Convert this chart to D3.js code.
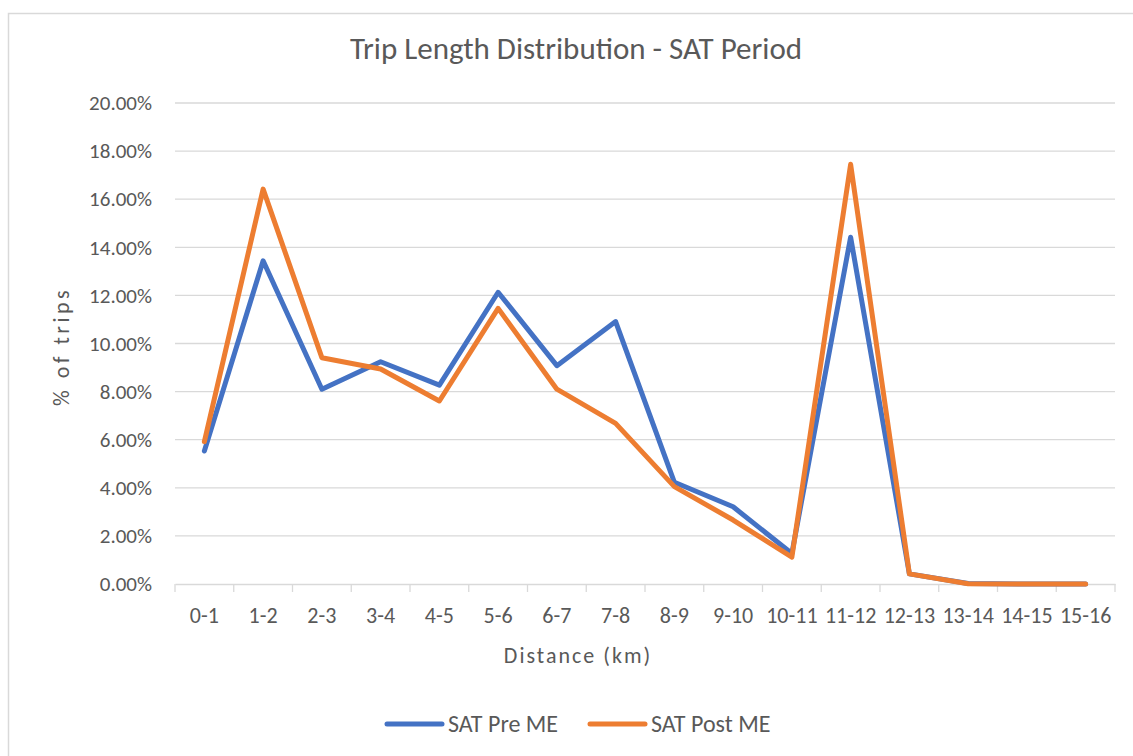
<!DOCTYPE html>
<html>
<head>
<meta charset="utf-8">
<script src="https://cdn.jsdelivr.net/npm/d3@7"></script>
<style>
  body { margin: 0; background: #fff; }
  text { font-family: Carlito, Lato, "Liberation Sans", sans-serif; fill: #595959; }
</style>
</head>
<body>
<div id="chart"></div>
<script>

    var categories = ["0-1", "1-2", "2-3", "3-4", "4-5", "5-6", "6-7", "7-8", "8-9", "9-10",
        "10-11", "11-12", "12-13", "13-14", "14-15", "15-16"];

    var preME = [5.53, 13.44, 8.10, 9.24, 8.27, 12.13, 9.08, 10.91, 4.23, 3.21,
        1.27, 14.42, 0.42, 0.02, 0.0, 0.0];

    var postME = [5.92, 16.42, 9.41, 8.94, 7.61, 11.46, 8.10, 6.68, 4.05, 2.66,
        1.12, 17.45, 0.42, 0.01, 0.0, 0.0];

    var yTicks = [0, 2, 4, 6, 8, 10, 12, 14, 16, 18, 20];

    var seriesNames = ["SAT Pre ME", "SAT Post ME"];
    var seriesColors = ["#4472C4", "#ED7D31"];

    var svgWidth = 1133;
    var svgHeight = 756;

    var margin = {
        top: 103,
        bottom: 172,
        left: 175,
        right: 18
    };

    var plot_width = svgWidth - margin.left - margin.right;
    var plot_height = svgHeight - margin.top - margin.bottom;

    var svg = d3.select("#chart")
        .append("svg")
        .attr("width", svgWidth)
        .attr("height", svgHeight);

    // chart area border
    svg.append("rect")
        .attr("x", 8.5)
        .attr("y", 13.5)
        .attr("width", 1140)
        .attr("height", 760)
        .attr("fill", "none")
        .attr("stroke", "#d9d9d9")
        .attr("stroke-width", 1.5);

    var chartGroup = svg.append("g")
        .attr("transform", `translate(${margin.left}, ${margin.top})`);

    var xScale = d3.scaleBand()
        .domain(categories)
        .range([0, plot_width])
        .padding(0);

    var yScale = d3.scaleLinear()
        .domain([0, 20])
        .range([plot_height, 0]);

    // gridlines
    chartGroup.append("g")
        .selectAll("line")
        .data(yTicks.slice(1))
        .enter()
        .append("line")
        .attr("x1", 0)
        .attr("x2", plot_width)
        .attr("y1", d => yScale(d))
        .attr("y2", d => yScale(d))
        .attr("stroke", "#d9d9d9")
        .attr("stroke-width", 1.3);

    // y axis labels
    var yAxis = d3.axisLeft(yScale)
        .tickValues(yTicks)
        .tickFormat(d => d3.format(".2f")(d) + "%")
        .tickSize(0)
        .tickPadding(23);

    var yAxisG = chartGroup.append("g").call(yAxis);
    yAxisG.select(".domain").remove();
    yAxisG.selectAll("text")
        .attr("font-size", "21px")
        .attr("font-family", null)
        .style("fill", "#595959");

    // x axis: baseline + tick marks at category boundaries
    var xAxis = d3.axisBottom(xScale)
        .tickSize(0);

    var xAxisG = chartGroup.append("g")
        .attr("transform", `translate(0, ${plot_height})`)
        .call(xAxis);
    xAxisG.select(".domain")
        .attr("stroke", "#d9d9d9")
        .attr("stroke-width", 1.3);
    xAxisG.selectAll("text")
        .attr("y", 39)
        .attr("dy", 0)
        .attr("font-size", "22px")
        .attr("font-family", null)
        .style("fill", "#595959");

    var boundaries = categories.map(c => xScale(c)).concat([plot_width]);
    xAxisG.selectAll(".bound")
        .data(boundaries)
        .enter()
        .append("line")
        .attr("class", "bound")
        .attr("x1", d => d)
        .attr("x2", d => d)
        .attr("y1", 0)
        .attr("y2", 8)
        .attr("stroke", "#d9d9d9")
        .attr("stroke-width", 1.3);

    // lines
    var line = d3.line()
        .x((d, i) => xScale(categories[i]) + xScale.bandwidth() / 2)
        .y(d => yScale(d));

    [preME, postME].forEach(function (series, k) {
        chartGroup.append("path")
            .datum(series)
            .attr("d", line)
            .attr("fill", "none")
            .attr("stroke", seriesColors[k])
            .attr("stroke-width", 5)
            .attr("stroke-linejoin", "round")
            .attr("stroke-linecap", "round");
    });

    // title
    svg.append("text")
        .attr("x", 576)
        .attr("y", 59)
        .attr("text-anchor", "middle")
        .attr("font-size", "31px")
        .text("Trip Length Distribution - SAT Period");

    // axis titles
    svg.append("text")
        .attr("x", 578)
        .attr("y", 663)
        .attr("text-anchor", "middle")
        .attr("font-size", "22px")
        .attr("letter-spacing", "2px")
        .text("Distance (km)");

    svg.append("text")
        .attr("transform", `translate(69, ${margin.top + plot_height / 2 + 3}) rotate(-90)`)
        .attr("text-anchor", "middle")
        .attr("font-size", "22px")
        .attr("letter-spacing", "3.5px")
        .text("% of trips");

    // legend
    var legendX = [387, 590];
    var legend = svg.append("g");
    seriesNames.forEach(function (name, k) {
        legend.append("line")
            .attr("x1", legendX[k])
            .attr("x2", legendX[k] + 55)
            .attr("y1", 724)
            .attr("y2", 724)
            .attr("stroke", seriesColors[k])
            .attr("stroke-width", 5)
            .attr("stroke-linecap", "round");
        legend.append("text")
            .attr("x", legendX[k] + 61)
            .attr("y", 732)
            .attr("font-size", "24px")
            .text(name);
    });

</script>
</body>
</html>
